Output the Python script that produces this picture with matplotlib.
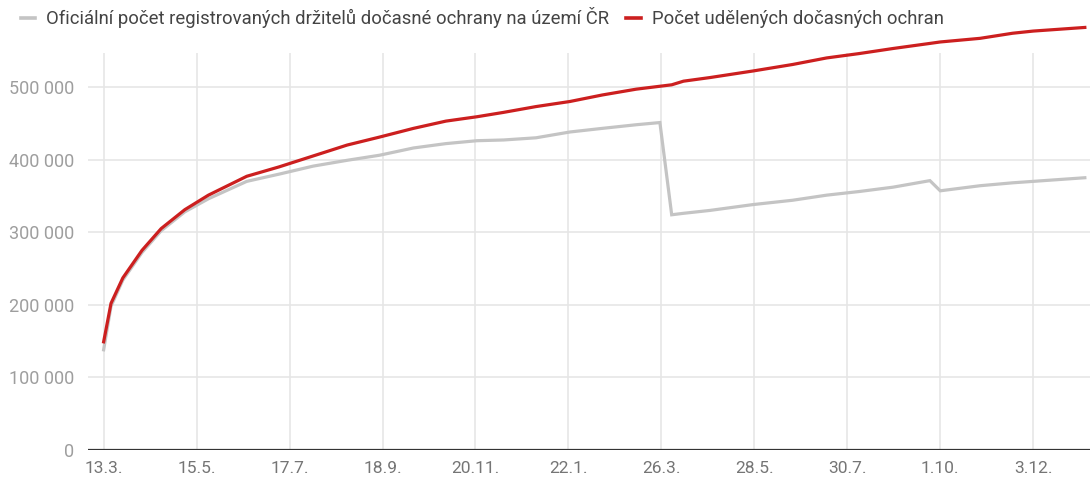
import pandas as pd
import matplotlib.pyplot as plt
from matplotlib.lines import Line2D

# data (in thousands)
dates = [
    "2022-03-13", "2022-03-18", "2022-03-26", "2022-04-08", "2022-04-21",
    "2022-05-07", "2022-05-23", "2022-06-18", "2022-07-10", "2022-08-02",
    "2022-08-25", "2022-09-16", "2022-10-09", "2022-10-31", "2022-11-21",
    "2022-12-09", "2022-12-31", "2023-01-23", "2023-02-14", "2023-03-09",
    "2023-03-25", "2023-04-02", "2023-04-10", "2023-04-28", "2023-05-27",
    "2023-06-23", "2023-07-16", "2023-08-07", "2023-08-30", "2023-09-24",
    "2023-10-01", "2023-10-28", "2023-11-19", "2023-12-03", "2024-01-07",
]
registered = [
    138, 198, 234, 272, 302, 328, 346, 370, 380, 391,
    399, 406, 416, 422, 426, 427, 430, 438, 443, 448,
    451, 324, 326, 330, 338, 344, 351, 356, 362, 371,
    357, 364, 368, 370, 375,
]
granted = [
    149, 202, 237, 275, 305, 331, 351, 377, 390, 405,
    420, 431, 443, 453, 459, 465, 473, 480, 489, 497,
    501, 503, 508, 513, 522, 531, 540, 546, 553, 560,
    562, 567, 574, 577, 582,
]
tick_dates = ["2022-03-13", "2022-05-15", "2022-07-17", "2022-09-18", "2022-11-20",
              "2023-01-22", "2023-03-26", "2023-05-28", "2023-07-30", "2023-10-01",
              "2023-12-03"]
yticks = [0, 100000, 200000, 300000, 400000, 500000]
labels = ["Oficiální počet registrovaných držitelů dočasné ochrany na území ČR",
          "Počet udělených dočasných ochran"]

plt.rcParams['font.family'] = ['Roboto', 'DejaVu Sans']

x = pd.to_datetime(dates)
xt = pd.to_datetime(tick_dates)
reg = [v * 1000 for v in registered]
gra = [v * 1000 for v in granted]

fig = plt.figure(figsize=(10.9, 4.79), dpi=100)
ax = fig.add_axes([88 / 1090, 29 / 479, 1002 / 1090, 428 / 479])

# grid
for v in yticks[1:]:
    ax.axhline(v, color='#e6e6e6', lw=1.2, zorder=0)
ax.vlines(xt, 0, 547000, color='#e6e6e6', lw=1.2, zorder=0)
ax.axhline(0, color='#333333', lw=1.6, zorder=3)

ax.plot(x, reg, color='#c4c4c4', lw=2.3, zorder=2, solid_joinstyle='miter')
ax.plot(x, gra, color='#cc1f1f', lw=2.3, zorder=2.5)

ax.set_xlim(xt[0] - pd.Timedelta(days=10.6), xt[0] + pd.Timedelta(days=668.5))
ax.set_ylim(0, 589500)

ax.set_xticks(xt)
ax.set_xticklabels([f"{d.day}.{d.month}." for d in xt], color='#757575', fontsize=12.5)
ax.set_yticks(yticks)
ax.set_yticklabels([f"{v:,}".replace(",", " ") for v in yticks], color='#9e9e9e', fontsize=13)
ax.tick_params(length=0)
ax.tick_params(axis='x', pad=8)
ax.tick_params(axis='y', pad=10)
for s in ax.spines.values():
    s.set_visible(False)

handles = [Line2D([], [], color='#c4c4c4', lw=2.6), Line2D([], [], color='#cc1f1f', lw=2.6)]
fig.legend(handles, labels, loc='center left', bbox_to_anchor=(4 / 1090, 1 - 18 / 479),
           ncol=2, frameon=False, handlelength=0.8, handletextpad=0.6,
           columnspacing=0.9, fontsize=13.3, labelcolor='#444444')

fig.savefig('out.png', dpi=100)
